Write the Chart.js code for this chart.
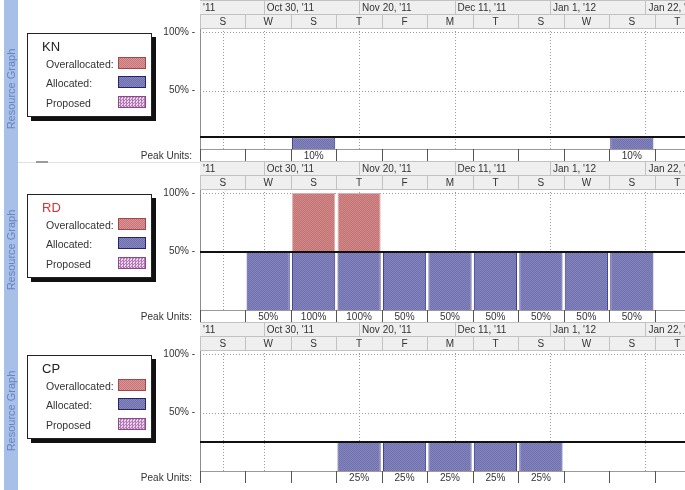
<!DOCTYPE html>
<html>
<head>
<meta charset="utf-8">
<title>Resource Graph</title>
<script src="https://cdn.jsdelivr.net/npm/chart.js@4.4.1/dist/chart.umd.min.js"></script>
<style>
  html, body { margin: 0; padding: 0; background: #fff; }
  body { width: 685px; height: 490px; overflow: hidden; position: relative; font-family: 'Liberation Sans', Arial, sans-serif; color: #333; }
  .strip { position: absolute; left: 4px; top: 0; width: 14px; height: 490px; background: #a8bfe8; }
  .sep { position: absolute; left: 18px; top: 162px; width: 182px; height: 1px; background: #e2e2e2; }
  .sep-dash { position: absolute; left: 36px; top: 161px; width: 12px; height: 2px; background: #9a9a9a; }
  .panel { position: absolute; left: 0; width: 700px; height: 162px; }
  .panel canvas { position: absolute; left: 0; top: 0; }
  .side { position: absolute; left: 11px; top: 89px; transform: translate(-50%, -50%) rotate(-90deg); white-space: nowrap; font-size: 11px; color: #6683c2; }
  .legend { position: absolute; left: 27px; top: 33px; width: 123px; height: 82px; border: 1px solid #222; background: #fff; box-shadow: 4px 4px 0 #111; }
  .legend .title { position: absolute; left: 14px; top: 5px; font-size: 13px; color: #222; }
  .legend .row { position: absolute; left: 18px; font-size: 10.5px; line-height: 12px; color: #333; }
  .legend .sw { position: absolute; left: 90px; width: 26px; height: 10px; }
  .sw.over { background: repeating-conic-gradient(#c97478 0 25%, #d99596 0 50%) 0 0/2px 2px; border: 1px solid #a04848; }
  .sw.alloc { background: repeating-conic-gradient(#6e6eac 0 25%, #8888c0 0 50%) 0 0/2px 2px; border: 1px solid #24246e; }
  .sw.prop { background: repeating-conic-gradient(#b27ab2 0 25%, #ecd0ec 0 50%) 0 0/3px 3px; border: 1px solid #8a4a8a; }
</style>
</head>
<body>
<div class="strip"></div>
<div id="panels"></div>
<div class="sep"></div>
<div class="sep-dash"></div>
<script>
// timescale (10-day columns starting Sun Oct 16, 2011)
const colLabels = ['S', 'W', 'S', 'T', 'F', 'M', 'T', 'S', 'W', 'S', 'T'];
const majorLabels = ["'11", "Oct 30, '11", "Nov 20, '11", "Dec 11, '11", "Jan 1, '12", "Jan 22, '12"];
const majorStartDays = [-7, 14, 35, 56, 77, 98];
const dateLineDays = [5, 14, 35, 56, 77, 98];
const percentTicks = [50, 100];
const daysPerColumn = 10;

// resources
const resourceNames = ['KN', 'RD', 'CP'];
const knAllocated = [0, 0, 10, 0, 0, 0, 0, 0, 0, 10, 0];
const knOverallocated = [0, 0, 0, 0, 0, 0, 0, 0, 0, 0, 0];
const rdAllocated = [0, 50, 50, 50, 50, 50, 50, 50, 50, 50, 0];
const rdOverallocated = [0, 0, 50, 50, 0, 0, 0, 0, 0, 0, 0];
const cpAllocated = [0, 0, 0, 25, 25, 25, 25, 25, 0, 0, 0];
const cpOverallocated = [0, 0, 0, 0, 0, 0, 0, 0, 0, 0, 0];
const maxUnits = [10, 50, 25];

const panelTops = [0, 161, 322];
const titleColors = ['#222', '#d03434', '#222'];
const FONT = "'Liberation Sans', Arial, sans-serif";

function makePattern(base, dot) {
  const c = document.createElement('canvas');
  c.width = 2;
  c.height = 2;
  const g = c.getContext('2d');
  g.fillStyle = base;
  g.fillRect(0, 0, 2, 2);
  g.fillStyle = dot;
  g.fillRect(0, 0, 1, 1);
  g.fillRect(1, 1, 1, 1);
  return g.createPattern(c, 'repeat');
}

const allocFill = makePattern('#8282bc', '#7272ae');
const overFill = makePattern('#d08888', '#c27474');

// day offset -> pixel, through the category scale of the columns
function dayToPixel(chart, day) {
  const x = chart.scales.x;
  const colW = x.getPixelForValue(1) - x.getPixelForValue(0);
  return x.getPixelForValue(0) - colW / 2 + (day / daysPerColumn) * colW;
}

const gridPlugin = {
  id: 'gridDots',
  beforeDatasetsDraw(chart) {
    const { ctx, chartArea } = chart;
    const y = chart.scales.y;
    ctx.save();
    ctx.strokeStyle = '#9a9a9a';
    ctx.lineWidth = 1;
    ctx.setLineDash([1, 2]);
    percentTicks.forEach((v) => {
      const py = Math.round(y.getPixelForValue(v)) + 0.5;
      ctx.beginPath();
      ctx.moveTo(chartArea.left, py);
      ctx.lineTo(chartArea.right, py);
      ctx.stroke();
    });
    dateLineDays.forEach((d) => {
      const px = Math.round(dayToPixel(chart, d)) + 0.5;
      ctx.beginPath();
      ctx.moveTo(px, chartArea.top);
      ctx.lineTo(px, chartArea.bottom);
      ctx.stroke();
    });
    ctx.restore();
  }
};

const maxLinePlugin = {
  id: 'maxLine',
  afterDatasetsDraw(chart, args, opts) {
    const { ctx, chartArea } = chart;
    const py = Math.round(chart.scales.y.getPixelForValue(opts.value));
    ctx.save();
    ctx.strokeStyle = '#111';
    ctx.lineWidth = 2;
    ctx.beginPath();
    ctx.moveTo(chartArea.left, py);
    ctx.lineTo(chartArea.right, py);
    ctx.stroke();
    ctx.restore();
  }
};

const timescalePlugin = {
  id: 'timescale',
  afterDraw(chart, args, opts) {
    const { ctx, chartArea } = chart;
    const left = chartArea.left;
    const right = chartArea.right;
    const width = right - left;
    const top = chartArea.top;
    const bottom = chartArea.bottom;
    const rowH = top / 2;

    ctx.save();
    ctx.font = '10px ' + FONT;
    ctx.textBaseline = 'middle';

    // header background
    ctx.fillStyle = '#efefef';
    ctx.fillRect(left, 0, width, top);
    ctx.strokeStyle = '#c2c2c2';
    ctx.lineWidth = 1;
    [0, rowH, top].forEach((ly) => {
      ctx.beginPath();
      ctx.moveTo(left, Math.round(ly) + 0.5);
      ctx.lineTo(right, Math.round(ly) + 0.5);
      ctx.stroke();
    });

    ctx.save();
    ctx.beginPath();
    ctx.rect(left, 0, width, top);
    ctx.clip();
    // major tier
    majorLabels.forEach((label, i) => {
      const x0 = dayToPixel(chart, majorStartDays[i]);
      if (x0 >= left) {
        ctx.beginPath();
        ctx.moveTo(Math.round(x0) + 0.5, 0);
        ctx.lineTo(Math.round(x0) + 0.5, rowH);
        ctx.stroke();
      }
      ctx.fillStyle = '#333';
      ctx.textAlign = 'left';
      ctx.fillText(label, Math.max(x0, left) + 3, rowH / 2 + 1);
    });
    // minor tier
    colLabels.forEach((label, i) => {
      const x0 = dayToPixel(chart, i * daysPerColumn);
      const x1 = dayToPixel(chart, (i + 1) * daysPerColumn);
      ctx.beginPath();
      ctx.moveTo(Math.round(x0) + 0.5, rowH);
      ctx.lineTo(Math.round(x0) + 0.5, top);
      ctx.stroke();
      ctx.fillStyle = '#333';
      ctx.textAlign = 'center';
      ctx.fillText(label, (x0 + x1) / 2, rowH + rowH / 2 + 1);
    });
    ctx.restore();

    // peak units row
    const rowBottom = chart.height - 1;
    ctx.strokeStyle = '#9a9a9a';
    ctx.beginPath();
    ctx.moveTo(left, Math.round(bottom) + 0.5);
    ctx.lineTo(right, Math.round(bottom) + 0.5);
    ctx.stroke();
    ctx.strokeStyle = '#555';
    opts.peaks.forEach((peak, i) => {
      const x0 = dayToPixel(chart, i * daysPerColumn);
      const x1 = dayToPixel(chart, (i + 1) * daysPerColumn);
      ctx.beginPath();
      ctx.moveTo(Math.round(x0) + 0.5, bottom);
      ctx.lineTo(Math.round(x0) + 0.5, rowBottom);
      ctx.stroke();
      if (peak > 0) {
        ctx.fillStyle = '#333';
        ctx.textAlign = 'center';
        ctx.fillText(peak + '%', (x0 + x1) / 2, (bottom + rowBottom) / 2 + 1);
      }
    });
    ctx.fillStyle = '#333';
    ctx.textAlign = 'right';
    ctx.fillText('Peak Units:', left - 8, (bottom + rowBottom) / 2 + 1);
    ctx.restore();
  }
};

function toBars(values) {
  return values.map((v) => (v > 0 ? v : null));
}

function makePanel(index, allocated, overallocated) {
  const panel = document.createElement('div');
  panel.className = 'panel';
  panel.style.top = panelTops[index] + 'px';
  panel.innerHTML = `
    <canvas width="700" height="162"></canvas>
    <div class="side">Resource Graph</div>
    <div class="legend">
      <div class="title" style="color:${titleColors[index]}">${resourceNames[index]}</div>
      <div class="row" style="top:24px">Overallocated:</div><div class="sw over" style="top:23px"></div>
      <div class="row" style="top:43px">Allocated:</div><div class="sw alloc" style="top:42px"></div>
      <div class="row" style="top:63px">Proposed</div><div class="sw prop" style="top:62px"></div>
    </div>`;
  document.getElementById('panels').appendChild(panel);

  const peaks = allocated.map((v, i) => v + overallocated[i]);

  new Chart(panel.querySelector('canvas'), {
    type: 'bar',
    data: {
      labels: colLabels,
      datasets: [
        {
          label: 'Allocated',
          data: toBars(allocated),
          backgroundColor: allocFill,
          borderColor: '#34348e',
          borderWidth: 1,
          borderSkipped: 'bottom',
          barPercentage: 1,
          categoryPercentage: 0.95
        },
        {
          label: 'Overallocated',
          data: toBars(overallocated),
          backgroundColor: overFill,
          borderColor: '#e2aaaa',
          borderWidth: 1,
          borderSkipped: 'bottom',
          barPercentage: 1,
          categoryPercentage: 0.95
        }
      ]
    },
    options: {
      responsive: false,
      animation: false,
      layout: { padding: { top: 28, bottom: 13, left: 0, right: 0 } },
      plugins: {
        legend: { display: false },
        tooltip: { enabled: false },
        maxLine: { value: maxUnits[index] },
        timescale: { peaks }
      },
      scales: {
        x: { type: 'category', stacked: true, display: false, offset: true },
        y: {
          stacked: true,
          min: 0,
          max: 103.5,
          afterFit(scale) { scale.width = 200; },
          afterBuildTicks(scale) { scale.ticks = [0, ...percentTicks].map((v) => ({ value: v })); },
          grid: { display: false, drawTicks: false },
          border: { display: true, color: '#8c8c8c' },
          ticks: {
            padding: 5,
            color: '#333',
            font: { family: FONT, size: 10 },
            callback: (v) => (percentTicks.includes(v) ? v + '% -' : '')
          }
        }
      }
    },
    plugins: [gridPlugin, maxLinePlugin, timescalePlugin]
  });
}

makePanel(0, knAllocated, knOverallocated);
makePanel(1, rdAllocated, rdOverallocated);
makePanel(2, cpAllocated, cpOverallocated);
</script>
</body>
</html>
